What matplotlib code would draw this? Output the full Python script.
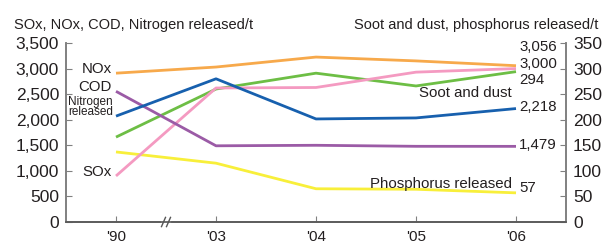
import matplotlib
matplotlib.use("Agg")
import matplotlib.pyplot as plt

plt.rcParams['font.family'] = ['Liberation Sans', 'DejaVu Sans']

years = ["'90", "'03", "'04", "'05", "'06"]
# left axis (t)
nox = [2910, 3030, 3225, 3150, 3056]
sox = [900, 2620, 2630, 2930, 3000]
cod = [2555, 1490, 1500, 1480, 1479]
nitrogen = [2070, 2800, 2015, 2035, 2218]
# right axis (t)
soot = [166, 260, 291, 266, 294]
phosphorus = [137, 115, 65, 64, 57]

left_ticks = [0, 500, 1000, 1500, 2000, 2500, 3000, 3500]
right_ticks = [0, 50, 100, 150, 200, 250, 300, 350]

c_nox = '#f7a94b'
c_sox = '#f49ac1'
c_cod = '#9b5ba6'
c_nit = '#1760ae'
c_soot = '#6dbe45'
c_pho = '#f8ef3a'
txt = '#231f20'
gray = '#808080'

fig = plt.figure(figsize=(6.02, 2.45), dpi=100)
ax = fig.add_axes([66/602, 23/245, 500/602, 179/245])
ax2 = ax.twinx()

x = list(range(len(years)))
lw = 2
ax.plot(x, nox, color=c_nox, lw=lw, solid_capstyle='butt')
ax.plot(x, sox, color=c_sox, lw=lw, solid_capstyle='butt')
ax.plot(x, cod, color=c_cod, lw=lw, solid_capstyle='butt')
ax.plot(x, nitrogen, color=c_nit, lw=lw, solid_capstyle='butt')
ax2.plot(x, soot, color=c_soot, lw=lw, solid_capstyle='butt')
ax2.plot(x, phosphorus, color=c_pho, lw=lw, solid_capstyle='butt')

ax.set_xlim(-0.5, 4.5)
ax.set_ylim(0, 3500)
ax2.set_ylim(0, 350)
ax.set_yticks(left_ticks)
ax.set_yticklabels([f"{v:,}" for v in left_ticks])
ax2.set_yticks(right_ticks)
ax.set_xticks(x)
ax.set_xticklabels(years)

for a in (ax, ax2):
    a.spines['top'].set_visible(False)
    for s in ('left', 'right', 'bottom'):
        a.spines[s].set_color(gray)
        a.spines[s].set_linewidth(1.2)
ax.spines['bottom'].set_color('#555555')
ax.tick_params(axis='y', direction='in', length=4, color=gray, labelsize=12.5,
               labelcolor=txt, pad=5)
ax2.tick_params(axis='y', direction='in', length=4, color=gray, labelsize=12.5,
                labelcolor=txt, pad=5)
ax.tick_params(axis='x', direction='in', length=4, color=gray, labelsize=11,
               labelcolor=txt, pad=6)
ax.set_zorder(ax2.get_zorder() + 1)
ax.patch.set_visible(False)

# axis break on x axis, between '90 and '03
ax.plot([0.45, 0.55], [-12, 12], color='white', lw=6, clip_on=False,
        solid_capstyle='butt')
for dx in (-0.025, 0.025):
    ax.plot([0.5 + dx - 0.02, 0.5 + dx + 0.02], [-90, 90], color='#555555',
            lw=1, clip_on=False)

# titles
fig.text(14/602, 1 - 25/245, "SOx, NOx, COD, Nitrogen released/t", fontsize=10.5,
         color=txt, va='center', ha='left')
fig.text(598/602, 1 - 25/245, "Soot and dust, phosphorus released/t", fontsize=10.5,
         color=txt, va='center', ha='right')

# series labels
fs = 10.8
ax.text(-0.04, 2990, "NOx", ha='right', va='center', fontsize=fs, color=txt)
ax.text(-0.04, 2630, "COD", ha='right', va='center', fontsize=fs, color=txt)
ax.text(-0.03, 2250, "Nitrogen\nreleased", ha='right', va='center',
        fontsize=8.5, color=txt, linespacing=0.85)
ax.text(-0.04, 980, "SOx", ha='right', va='center', fontsize=fs, color=txt)
ax.text(3.96, 2530, "Soot and dust", ha='right', va='center', fontsize=fs, color=txt)
ax.text(3.96, 740, "Phosphorus released", ha='right', va='center', fontsize=fs,
        color=txt)

# end values
ax.text(4.03, 3420, "3,056", ha='left', va='center', fontsize=fs, color=txt)
ax.text(4.03, 3080, "3,000", ha='left', va='center', fontsize=fs, color=txt)
ax.text(4.03, 2780, "294", ha='left', va='center', fontsize=fs, color=txt)
ax.text(4.03, 2250, "2,218", ha='left', va='center', fontsize=fs, color=txt)
ax.text(4.03, 1500, "1,479", ha='left', va='center', fontsize=fs, color=txt)
ax.text(4.03, 660, "57", ha='left', va='center', fontsize=fs, color=txt)

fig.savefig("out.png", dpi=100)
